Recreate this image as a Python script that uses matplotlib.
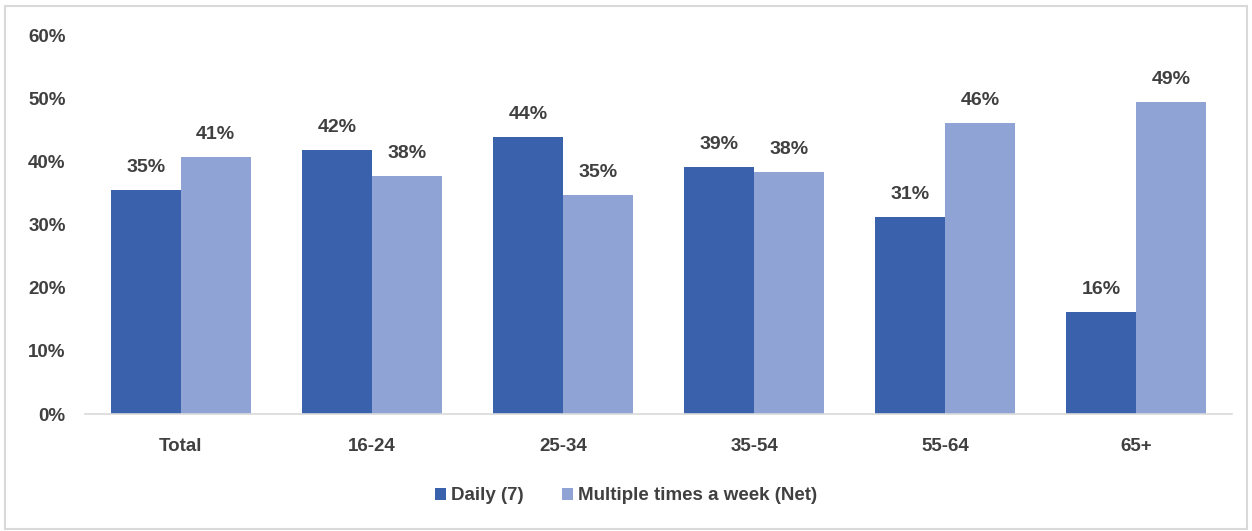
import numpy as np
import matplotlib.pyplot as plt
from matplotlib.patches import Rectangle

# data
categories = ['Total', '16-24', '25-34', '35-54', '55-64', '65+']
daily = [35.5, 41.8, 43.8, 39.1, 31.2, 16.1]
multi = [40.7, 37.7, 34.7, 38.3, 46.1, 49.4]
daily_labels = ['35%', '42%', '44%', '39%', '31%', '16%']
multi_labels = ['41%', '38%', '35%', '38%', '46%', '49%']

plt.rcParams['font.family'] = ['Liberation Sans Narrow', 'Liberation Sans', 'DejaVu Sans']
plt.rcParams['font.weight'] = 'bold'
txt = '#404040'

fig = plt.figure(figsize=(12.52, 5.31), dpi=100)
ax = fig.add_axes([0.068, 0.2203, 0.916, 0.7137])
fig.patches.append(Rectangle((0.004, 0.004), 0.992, 0.985, transform=fig.transFigure,
                             fill=False, edgecolor='#d9d9d9', linewidth=1.5))

x = np.arange(len(categories))
w = 0.366
b1 = ax.bar(x - w/2, daily, w, color='#3A62AC', label='Daily (7)')
b2 = ax.bar(x + w/2, multi, w, color='#8FA4D5', label='Multiple times a week (Net)')

for bars, labs in ((b1, daily_labels), (b2, multi_labels)):
    for r, lab in zip(bars, labs):
        ax.text(r.get_x() + r.get_width()/2, r.get_height() + 2.2, lab, ha='center', va='bottom',
                fontsize=14, fontweight='bold', color=txt)

ax.set_xlim(-0.5, len(categories) - 0.5)
ax.set_ylim(0, 60)
ax.set_yticks(range(0, 61, 10))
ax.set_yticklabels([f'{v}%' for v in range(0, 61, 10)])
ax.set_xticks(x)
ax.set_xticklabels(categories)
ax.tick_params(axis='both', length=0, labelsize=13.5, labelcolor=txt)
ax.tick_params(axis='x', pad=17)
ax.tick_params(axis='y', pad=14)
for s in ['top', 'right', 'left']:
    ax.spines[s].set_visible(False)
ax.spines['bottom'].set_color('#d9d9d9')
ax.spines['bottom'].set_linewidth(1.2)

leg = fig.legend(loc='center', bbox_to_anchor=(0.5, 0.066), ncol=2, frameon=False,
                 fontsize=13.5, handlelength=0.6, handleheight=0.6, handletextpad=0.3,
                 columnspacing=2.0)
for t in leg.get_texts():
    t.set_color(txt)

fig.savefig('out.png', dpi=100)
